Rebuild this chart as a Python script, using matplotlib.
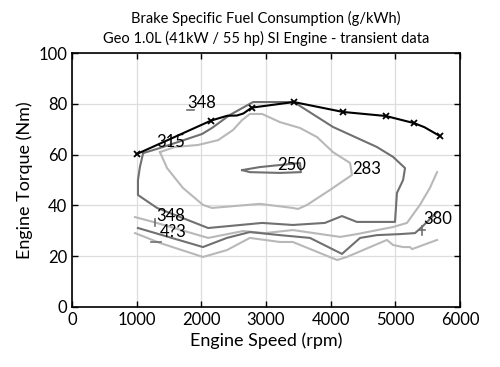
import numpy as np
import matplotlib
matplotlib.use("Agg")
import matplotlib.pyplot as plt

plt.rcParams["font.family"] = ["Lato", "DejaVu Sans"]

# max torque curve (rpm, Nm)
max_rpm = [1000, 2150, 2400, 2550, 2650, 2780, 3430, 4190, 4855, 5290, 5450, 5690]
max_nm = [60.2, 73.4, 75.3, 75.4, 76.2, 78.5, 80.7, 76.8, 75.2, 72.4, 70.8, 67.3]
max_mark_rpm = [1000, 2150, 2780, 3430, 4190, 4855, 5290, 5690]
max_mark_nm = [60.2, 73.4, 78.5, 80.7, 76.8, 75.2, 72.4, 67.3]

# BSFC 315 contour (dark)
c315_rpm = [1100, 1360, 2010, 2165, 2440, 2800, 3015, 3430, 4035, 4715, 4965, 5150,
            5120, 5025, 4995, 4405, 4175, 3910, 3415, 2940, 2105, 1315, 1020, 1020, 1050, 1100]
c315_nm = [60.6, 62.6, 68.1, 70.5, 75.6, 80.7, 80.7, 80.7, 70.9, 63.0, 59.1, 54.7,
           50.0, 44.9, 33.5, 33.5, 35.8, 33.1, 32.3, 33.1, 31.1, 39.0, 44.1, 50.0, 55.1, 60.6]

# BSFC 283 contour (light)
c283_rpm = [1360, 1590, 1950, 2260, 2490, 2630, 2750, 2940, 3215, 3525, 3790, 4035,
            4300, 4330, 3990, 3635, 3495, 3415, 2905, 2165, 2025, 1715, 1470, 1360]
c283_nm = [61.0, 63.0, 63.8, 65.7, 69.7, 73.6, 76.0, 76.0, 72.8, 70.5, 66.9, 61.0,
           56.7, 52.0, 46.1, 40.2, 38.6, 39.0, 40.6, 39.0, 40.2, 46.9, 54.7, 61.0]

# BSFC 250 island
c250_rpm = [2630, 2905, 3525, 3540, 3215, 2750, 2630]
c250_nm = [53.9, 55.1, 56.7, 53.1, 52.8, 53.1, 53.9]

# low-load contours
c348_rpm = [975, 1255, 2105, 2645, 2985, 3415, 4145, 4405, 4965, 5180, 5380, 5535, 5645]
c348_nm = [35.4, 33.5, 27.2, 29.9, 29.1, 30.3, 27.6, 28.7, 31.5, 33.1, 40.2, 46.9, 53.1]

c380_rpm = [1020, 2025, 2395, 2750, 3215, 3680, 4175, 4455, 4715, 5070, 5305, 5410, 5645]
c380_nm = [31.1, 23.6, 27.2, 29.5, 28.3, 27.2, 20.9, 27.2, 28.3, 28.7, 29.1, 31.5, 37.4]

c413_rpm = [975, 1360, 2025, 2395, 2750, 3215, 3415, 4100, 4250, 4870, 4965, 5120, 5225, 5260, 5645]
c413_nm = [29.1, 25.2, 19.7, 22.4, 27.2, 25.6, 25.6, 18.5, 19.7, 26.4, 24.4, 23.6, 23.6, 22.8, 26.4]

labels = ["348", "315", "250", "283", "348", "4?3", "380"]
label_rpm = [2000, 1530, 3390, 4550, 1530, 1560, 5650]
label_nm = [80.2, 65.0, 55.9, 54.3, 36.0, 29.4, 34.8]

DARK = "#707070"
LIGHT = "#b8b8b8"

fig = plt.figure(figsize=(5.0, 3.67), dpi=100)
ax = fig.add_axes([0.144, 0.1635, 0.776, 0.692])

ax.plot(c283_rpm, c283_nm, color=LIGHT, lw=1.5)
ax.plot(c348_rpm, c348_nm, color=LIGHT, lw=1.5)
ax.plot(c413_rpm, c413_nm, color=LIGHT, lw=1.5)
ax.plot(c315_rpm, c315_nm, color=DARK, lw=1.5)
ax.plot(c250_rpm, c250_nm, color=DARK, lw=1.5)
ax.plot(c380_rpm, c380_nm, color=DARK, lw=1.5)

# small contour fragments near labels
ax.plot([1780, 1880], [77.5, 77.5], color=DARK, lw=1.2)
ax.plot([1280, 1280], [34.5, 31.8], color=DARK, lw=1.2)
ax.plot([1220, 1370], [25.6, 25.6], color=DARK, lw=1.2)
ax.plot([5360, 5460], [30.2, 30.2], color=DARK, lw=1.2)
ax.plot([5410, 5410], [28.5, 32.0], color=DARK, lw=1.2)

ax.plot(max_rpm, max_nm, color="black", lw=1.5)
ax.plot(max_mark_rpm, max_mark_nm, ls="none", marker="x", color="black", ms=5, mew=1.3)

for t, x, y in zip(labels, label_rpm, label_nm):
    ax.text(x, y, t, fontsize=12, ha="center", va="center")

ax.set_xlim(0, 6000)
ax.set_ylim(0, 100)
ax.set_xticks(np.arange(0, 6001, 1000))
ax.set_yticks(np.arange(0, 101, 20))
ax.grid(True, color="#dddddd", lw=0.9)
ax.set_axisbelow(True)
ax.tick_params(direction="in", top=True, right=True, labelsize=12, length=4, width=1)
for s in ax.spines.values():
    s.set_linewidth(1.2)

ax.set_xlabel("Engine Speed (rpm)", fontsize=13, labelpad=3)
ax.set_ylabel("Engine Torque (Nm)", fontsize=13, labelpad=4)
ax.set_title("Brake Specific Fuel Consumption (g/kWh)\nGeo 1.0L (41kW / 55 hp) SI Engine - transient data",
             fontsize=10.5, linespacing=1.4, pad=7)

fig.savefig("out.png", dpi=100)
